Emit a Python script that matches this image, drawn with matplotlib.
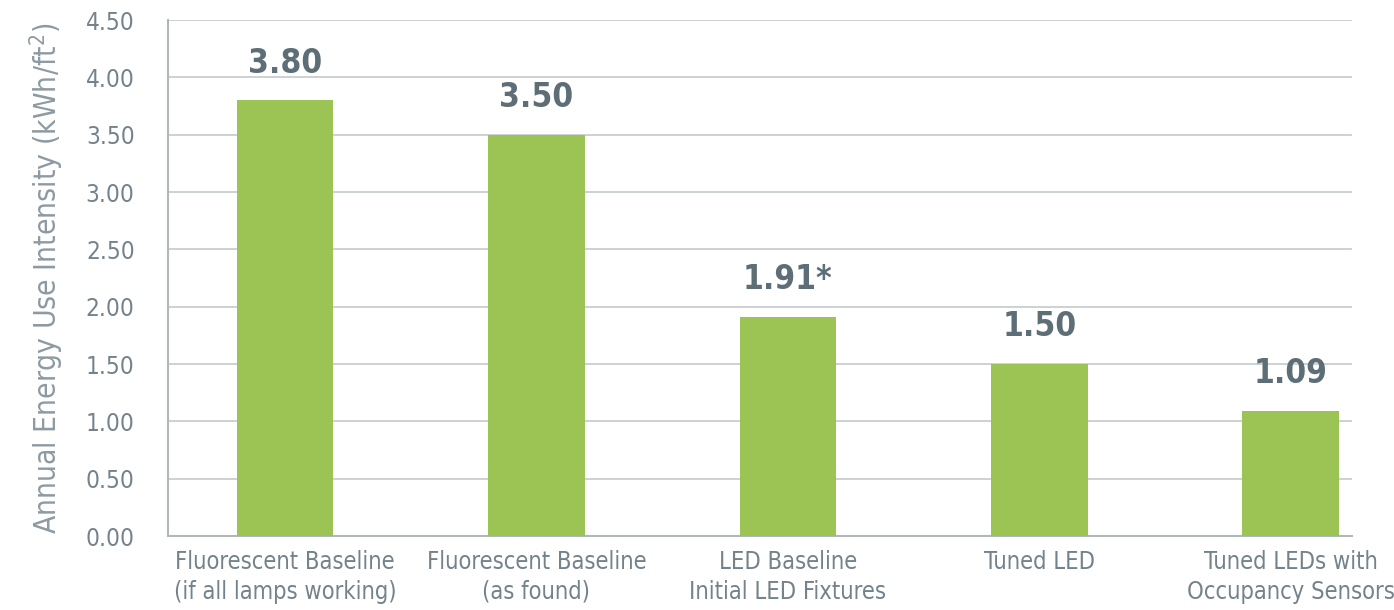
import matplotlib.pyplot as plt

categories = ["Fluorescent Baseline\n(if all lamps working)",
              "Fluorescent Baseline\n(as found)",
              "LED Baseline\nInitial LED Fixtures",
              "Tuned LED",
              "Tuned LEDs with\nOccupancy Sensors"]
values = [3.80, 3.50, 1.91, 1.50, 1.09]
value_labels = ["3.80", "3.50", "1.91*", "1.50", "1.09"]
yticks = [0.0, 0.5, 1.0, 1.5, 2.0, 2.5, 3.0, 3.5, 4.0, 4.5]

plt.rcParams['font.family'] = ['DejaVu Sans']
plt.rcParams['font.stretch'] = 'condensed'

green = "#9bc455"
text_gray = "#74838b"
grid_gray = "#c4c9cc"

fig = plt.figure(figsize=(13.94, 6.10), dpi=100)
ax = fig.add_axes([168/1394, 1 - 536/610, (1352-168)/1394, (536-20)/610])

x = range(len(categories))
bars = ax.bar(x, values, width=0.385, color=green, zorder=3)

# value labels above each bar
for b, lab in zip(bars, value_labels):
    ax.text(b.get_x() + b.get_width()/2, b.get_height() + 0.18, lab,
            ha='center', va='bottom', fontsize=24, fontweight='bold',
            color="#5e6e76", stretch='condensed')

ax.set_ylim(0, 4.5)
ax.set_xlim(-0.465, 4.243)
ax.set_yticks(yticks)
ax.set_yticklabels([f"{v:.2f}" for v in yticks], fontsize=17.5, color=text_gray,
                   stretch='condensed')
ax.set_xticks(list(x))
ax.set_xticklabels(categories, fontsize=17, color=text_gray, linespacing=1.3,
                   stretch='condensed')
ax.tick_params(axis='both', length=0)
ax.tick_params(axis='y', pad=24)
ax.tick_params(axis='x', pad=10)

ax.yaxis.grid(True, color=grid_gray, linewidth=1.2, zorder=0)
for s in ['top', 'right']:
    ax.spines[s].set_visible(False)
for s in ['left', 'bottom']:
    ax.spines[s].set_color("#b0b7bb")
    ax.spines[s].set_linewidth(1.5)

ax.set_ylabel("Annual Energy Use Intensity (kWh/ft$^2$)", fontsize=21.5,
              color="#8d9aa1", labelpad=14, stretch='condensed')

fig.savefig("out.png", dpi=100)
